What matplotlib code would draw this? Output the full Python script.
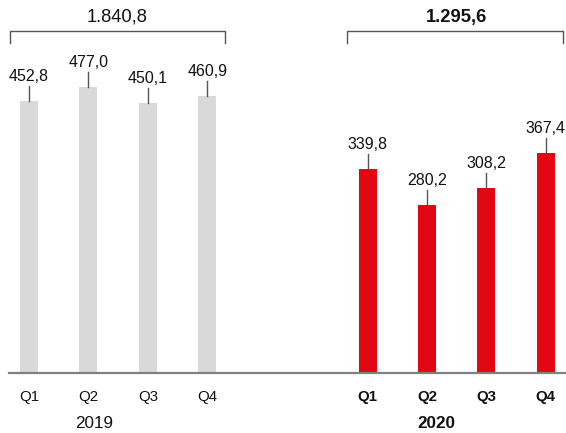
import matplotlib
matplotlib.use('Agg')
import matplotlib.pyplot as plt

plt.rcParams['font.family'] = ['Liberation Sans', 'DejaVu Sans']

# Quarterly values
quarters = ['Q1', 'Q2', 'Q3', 'Q4']
values_2019 = [452.8, 477.0, 450.1, 460.9]
values_2020 = [339.8, 280.2, 308.2, 367.4]
labels_2019 = ['452,8', '477,0', '450,1', '460,9']
labels_2020 = ['339,8', '280,2', '308,2', '367,4']
total_2019 = '1.840,8'
total_2020 = '1.295,6'
years = ['2019', '2020']

GREY = '#d9d9d9'
RED = '#e30613'
LINE = '#555555'
TEXT = '#111111'

W, H = 566, 433
PX_PER_UNIT = 0.6      # vertical pixels per value unit
STEP = 59.4            # horizontal pixels per bar slot
BASE_PX = 373          # baseline, pixels from top


def u(px):
    """vertical pixels -> value units"""
    return px / PX_PER_UNIT


def xs(px):
    """horizontal pixels -> x data"""
    return (px - 29) / STEP


fig = plt.figure(figsize=(W / 100, H / 100), dpi=100)
ax = fig.add_axes([0, (H - BASE_PX) / H, 1, BASE_PX / H])
ax.set_xlim(xs(0), xs(W))
ax.set_ylim(0, u(BASE_PX))
for s in ax.spines.values():
    s.set_visible(False)
ax.set_yticks([])

x19 = [0, 1, 2, 3]
x20 = [5.7, 6.7, 7.7, 8.7]
bw = 18 / STEP

ax.bar(x19, values_2019, width=bw, color=GREY, zorder=2)
ax.bar(x20, values_2020, width=bw, color=RED, zorder=2)

# baseline
ax.plot([xs(9), xs(W)], [0, 0], color='#808080', lw=1.6, clip_on=False, zorder=3)

# value labels with leader lines
for xv, v, lab in zip(x19 + x20, values_2019 + values_2020, labels_2019 + labels_2020):
    ax.plot([xv, xv], [v, v + u(15)], color=LINE, lw=1, zorder=3)
    ax.text(xv, v + u(20), lab, ha='center', va='baseline', fontsize=11.5, color=TEXT)

# quarter tick labels
ax.set_xticks(x19 + x20, quarters + quarters)
ax.tick_params(axis='x', length=0, pad=12, labelsize=10.8, labelcolor=TEXT)
for t in ax.get_xticklabels()[4:]:
    t.set_fontweight('bold')

# year labels
ax.text(xs(94), -u(50), years[0], ha='center', va='center', fontsize=12.3,
        color=TEXT, clip_on=False)
ax.text(xs(436), -u(50), years[1], ha='center', va='center', fontsize=12.3,
        fontweight='bold', color=TEXT, clip_on=False)

# annual total brackets
y_br = u(BASE_PX - 31)
y_tick = u(BASE_PX - 43)
for x0, x1, xt, txt, wt in [(10, 225, 117.5, total_2019, 'normal'),
                            (347, 563, 456, total_2020, 'bold')]:
    ax.plot([xs(x0), xs(x0), xs(x1), xs(x1)], [y_tick, y_br, y_br, y_tick],
            color=LINE, lw=1, clip_on=False)
    ax.text(xs(xt), u(BASE_PX - 17), txt, ha='center', va='center',
            fontsize=13.2, fontweight=wt, color=TEXT)

fig.savefig('out.png', dpi=100)
